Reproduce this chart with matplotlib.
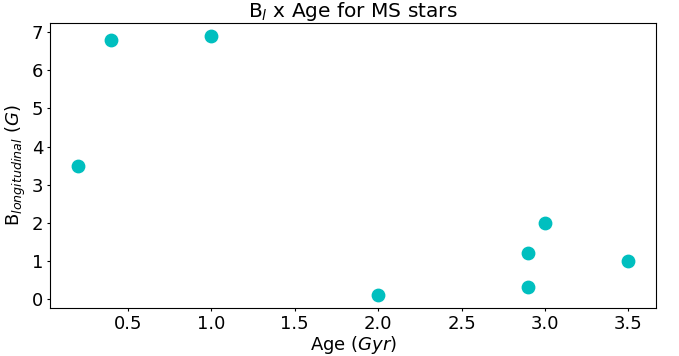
import matplotlib
matplotlib.use("Agg")
import matplotlib.pyplot as plt

age_gyr = [0.2, 0.4, 1.0, 2.0, 2.9, 2.9, 3.0, 3.5]
b_long = [3.5, 6.8, 6.9, 0.1, 1.2, 0.3, 2.0, 1.0]
y_ticks = [0, 1, 2, 3, 4, 5, 6, 7]

fig, ax = plt.subplots(figsize=(6.79, 3.56), dpi=100)
ax.scatter(age_gyr, b_long, s=80, color='c')
ax.set_yticks(y_ticks)
ax.set_title(r'B$_l$ x Age for MS stars', fontsize=14.5, pad=0)
ax.set_xlabel(r'Age $(Gyr)$', fontsize=13, labelpad=1)
ax.set_ylabel(r'B$_{longitudinal}$ $(G)$', fontsize=13, labelpad=3)
ax.tick_params(labelsize=13, length=2.5, pad=2.5)
fig.subplots_adjust(left=0.074, right=0.966, top=0.935, bottom=0.135)
fig.savefig('out.png', dpi=100)
